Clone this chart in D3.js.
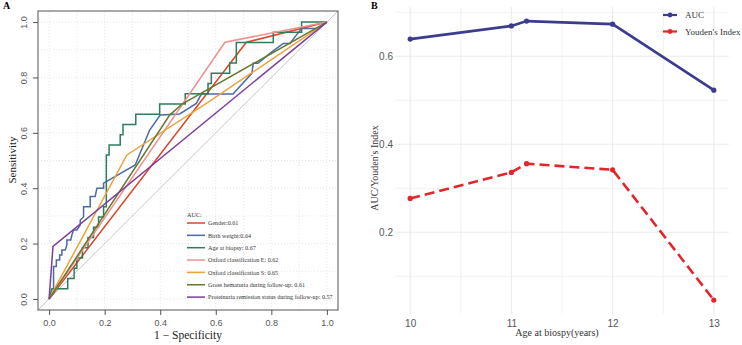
<!DOCTYPE html>
<html lang="en">
<head>
<meta charset="UTF-8">
<title>ROC and AUC by age</title>
<script src="https://cdn.jsdelivr.net/npm/d3@7/dist/d3.min.js"></script>
<style>
  body { margin: 0; background: #fff; }
  svg text { font-family: "Liberation Serif", "DejaVu Serif", serif; }
  .tick text { font-family: "Liberation Sans", Arial, sans-serif; fill: #555; }
</style>
</head>
<body>
<svg id="chart" width="742" height="345"></svg>
<script>
// ---- panel A: ROC curves ----
const rocLabels = [
  "Gender:0.61",
  "Birth weight:0.64",
  "Age at biopsy: 0.67",
  "Oxford classification E: 0.62",
  "Oxford classification S: 0.65",
  "Gross hematuria during follow-up: 0.61",
  "Proteinuria remission status during follow-up: 0.57"
];
const rocColors = ["#d9472b", "#4a6aa8", "#2e7d5a", "#ef9191", "#f0a23c", "#64782e", "#7b3f9e"];

const genderRoc = [[0, 0], [0.71, 0.927], [1, 1]];
const birthWeightRoc = [[0, 0], [0.016, 0.02], [0.016, 0.117], [0.026, 0.117], [0.026, 0.141], [0.038, 0.141],
  [0.038, 0.159], [0.046, 0.159], [0.046, 0.177], [0.058, 0.177], [0.064, 0.195], [0.064, 0.213], [0.078, 0.213],
  [0.082, 0.231], [0.088, 0.249], [0.1, 0.249], [0.112, 0.267], [0.112, 0.285], [0.124, 0.296], [0.124, 0.333],
  [0.148, 0.333], [0.148, 0.37], [0.166, 0.37], [0.172, 0.4], [0.196, 0.4], [0.196, 0.418], [0.31, 0.484],
  [0.362, 0.61], [0.4, 0.664], [0.47, 0.668], [0.53, 0.706], [0.548, 0.74], [0.662, 0.74], [0.73, 0.815],
  [0.735, 0.851], [0.752, 0.851], [0.795, 0.887], [0.843, 0.923], [0.867, 0.923], [0.89, 0.953],
  [0.909, 0.977], [0.963, 0.977], [1, 1]];
const ageRoc = [[0, 0], [0.01, 0.037], [0.067, 0.037], [0.067, 0.074], [0.09, 0.074], [0.09, 0.111], [0.1, 0.111],
  [0.1, 0.148], [0.12, 0.148], [0.12, 0.185], [0.14, 0.185], [0.14, 0.222], [0.16, 0.222], [0.16, 0.259],
  [0.178, 0.259], [0.178, 0.296], [0.196, 0.296], [0.196, 0.333], [0.206, 0.333], [0.206, 0.407], [0.206, 0.52],
  [0.216, 0.52], [0.216, 0.556], [0.256, 0.556], [0.256, 0.593], [0.266, 0.593], [0.266, 0.63], [0.312, 0.63],
  [0.312, 0.667], [0.398, 0.667], [0.398, 0.704], [0.49, 0.704], [0.49, 0.741], [0.572, 0.741], [0.572, 0.778],
  [0.584, 0.778], [0.584, 0.815], [0.65, 0.815], [0.65, 0.852], [0.674, 0.852], [0.674, 0.926], [0.807, 0.926],
  [0.807, 0.963], [0.909, 0.963], [0.909, 1], [1, 1]];
const oxfordERoc = [[0, 0], [0.633, 0.927], [1, 1]];
const oxfordSRoc = [[0, 0], [0.28, 0.52], [0.584, 0.718], [1, 1]];
const hematuriaRoc = [[0, 0], [0.434, 0.664], [0.48, 0.705], [1, 1]];
const proteinuriaRoc = [[0, 0], [0.014, 0.19], [1, 1]];
const rocCurves = [genderRoc, birthWeightRoc, ageRoc, oxfordERoc, oxfordSRoc, hematuriaRoc, proteinuriaRoc];
const rocTicks = [0, 0.2, 0.4, 0.6, 0.8, 1.0];

// ---- panel B: AUC / Youden by age cut-off ----
const ages = [10, 11, 11.15, 12, 13];
const aucValues = [0.639, 0.669, 0.680, 0.673, 0.523];
const youdenValues = [0.277, 0.336, 0.356, 0.342, 0.046];
const ageTicks = [10, 11, 12, 13];
const valueTicks = [0.2, 0.4, 0.6];

const svg = d3.select("#chart");

// ===== Panel A =====
const xA = d3.scaleLinear().domain([-0.04, 1.04]).range([38, 338]);
const yA = d3.scaleLinear().domain([-0.04, 1.04]).range([310, 11]);
const gA = svg.append("g");

const gridVals = d3.range(0, 11).map(i => i / 10);
gA.selectAll(".vgrid").data(gridVals).enter().append("line")
  .attr("x1", d => xA(d)).attr("x2", d => xA(d))
  .attr("y1", yA.range()[0]).attr("y2", yA.range()[1])
  .attr("stroke", "#e0e0e0").attr("stroke-width", 0.8).attr("stroke-dasharray", "1,2");
gA.selectAll(".hgrid").data(gridVals).enter().append("line")
  .attr("y1", d => yA(d)).attr("y2", d => yA(d))
  .attr("x1", xA.range()[0]).attr("x2", xA.range()[1])
  .attr("stroke", "#e0e0e0").attr("stroke-width", 0.8).attr("stroke-dasharray", "1,2");

// chance diagonal
gA.append("line")
  .attr("x1", xA(-0.04)).attr("y1", yA(-0.04)).attr("x2", xA(1.04)).attr("y2", yA(1.04))
  .attr("stroke", "#c8c8c8").attr("stroke-width", 1);

const rocLine = d3.line().x(d => xA(d[0])).y(d => yA(d[1]));
gA.selectAll(".roc").data(rocCurves).enter().append("path")
  .attr("d", rocLine)
  .attr("fill", "none")
  .attr("stroke", (d, i) => rocColors[i])
  .attr("stroke-width", 1.5);

gA.append("rect")
  .attr("x", 38).attr("y", 11).attr("width", 300).attr("height", 299)
  .attr("fill", "none").attr("stroke", "#555").attr("stroke-width", 1);

const xAxisA = gA.append("g").attr("transform", "translate(0,310)")
  .call(d3.axisBottom(xA).tickValues(rocTicks).tickFormat(d3.format(".1f")).tickSize(5).tickSizeOuter(0));
xAxisA.select(".domain").remove();
xAxisA.selectAll("line").attr("stroke", "#555");
xAxisA.selectAll("text").attr("font-size", 9).attr("dy", "0.9em");

const yAxisA = gA.append("g").attr("transform", "translate(38,0)")
  .call(d3.axisLeft(yA).tickValues(rocTicks).tickFormat(d3.format(".1f")).tickSize(5).tickSizeOuter(0));
yAxisA.select(".domain").remove();
yAxisA.selectAll("line").attr("stroke", "#555");
yAxisA.selectAll("text")
  .attr("font-size", 9)
  .attr("x", 0).attr("dy", 0)
  .attr("text-anchor", "middle")
  .attr("transform", "translate(-11,0) rotate(-90)");

gA.append("text").attr("x", 188).attr("y", 339).attr("text-anchor", "middle")
  .attr("font-size", 11.5).attr("fill", "#222").text("1 \u2212 Specificity");
gA.append("text").attr("transform", "translate(16,160) rotate(-90)").attr("text-anchor", "middle")
  .attr("font-size", 11).attr("fill", "#222").text("Sensitivity");
gA.append("text").attr("x", 3).attr("y", 9).attr("font-size", 10).attr("font-weight", "bold").text("A");

// legend A
gA.append("text").attr("x", 187).attr("y", 217).attr("font-size", 6.2).attr("fill", "#333").text("AUC:");
const legA = gA.selectAll(".legA").data(rocLabels).enter().append("g")
  .attr("transform", (d, i) => `translate(187,${223 + i * 12.35})`);
legA.append("line").attr("x1", 0).attr("x2", 18)
  .attr("stroke", (d, i) => rocColors[i]).attr("stroke-width", 1.5);
legA.append("text").attr("x", 21).attr("y", 2.2).attr("font-size", 6.1).attr("fill", "#333").text(d => d);

// ===== Panel B =====
const xB = d3.scaleLinear().domain([9.85, 13.15]).range([395, 729]);
const yB = d3.scaleLinear().domain([0.0143, 0.712]).range([314, 7]);
const gB = svg.append("g");

const minorX = [10, 10.5, 11, 11.5, 12, 12.5, 13];
gB.selectAll(".bvgrid").data(minorX).enter().append("line")
  .attr("x1", d => xB(d)).attr("x2", d => xB(d)).attr("y1", 7).attr("y2", 314)
  .attr("stroke", "#ebebeb").attr("stroke-width", d => Number.isInteger(d) ? 1.1 : 0.7);
const gridY = [0.1, 0.2, 0.3, 0.4, 0.5, 0.6, 0.7];
gB.selectAll(".bhgrid").data(gridY).enter().append("line")
  .attr("y1", d => yB(d)).attr("y2", d => yB(d)).attr("x1", 395).attr("x2", 729)
  .attr("stroke", "#ebebeb").attr("stroke-width", d => valueTicks.includes(d) ? 1.1 : 0.7);

const xAxisB = gB.append("g").attr("transform", "translate(0,314)")
  .call(d3.axisBottom(xB).tickValues(ageTicks).tickFormat(d3.format("d")).tickSize(0));
xAxisB.select(".domain").remove();
xAxisB.selectAll("text").attr("font-size", 10).attr("dy", "0.95em");

const yAxisB = gB.append("g").attr("transform", "translate(395,0)")
  .call(d3.axisLeft(yB).tickValues(valueTicks).tickFormat(d3.format(".1f")).tickSize(0));
yAxisB.select(".domain").remove();
yAxisB.selectAll("text").attr("font-size", 10).attr("x", -2);

const lineB = d3.line().x((d, i) => xB(ages[i])).y(d => yB(d));
gB.append("path").datum(youdenValues).attr("d", lineB)
  .attr("fill", "none").attr("stroke", "#e3262b").attr("stroke-width", 2.6).attr("stroke-dasharray", "10,5");
gB.selectAll(".ydot").data(youdenValues).enter().append("circle")
  .attr("cx", (d, i) => xB(ages[i])).attr("cy", d => yB(d)).attr("r", 2.6).attr("fill", "#e3262b");
gB.append("path").datum(aucValues).attr("d", lineB)
  .attr("fill", "none").attr("stroke", "#3b3b8f").attr("stroke-width", 2.6);
gB.selectAll(".adot").data(aucValues).enter().append("circle")
  .attr("cx", (d, i) => xB(ages[i])).attr("cy", d => yB(d)).attr("r", 2.6).attr("fill", "#3b3b8f");

gB.append("text").attr("x", 557).attr("y", 336).attr("text-anchor", "middle")
  .attr("font-size", 10).attr("fill", "#333").text("Age at biospy(years)");
gB.append("text").attr("transform", "translate(378,168) rotate(-90)").attr("text-anchor", "middle")
  .attr("font-size", 10).attr("fill", "#333").text("AUC/Youden's Index");
gB.append("text").attr("x", 371).attr("y", 9).attr("font-size", 10).attr("font-weight", "bold").text("B");

// legend B
const legB = gB.selectAll(".legB").data(["AUC", "Youden's Index"]).enter().append("g")
  .attr("transform", (d, i) => `translate(663,${15 + i * 16.5})`);
const legColors = ["#3b3b8f", "#e3262b"];
legB.append("line").attr("x1", 0).attr("x2", 14)
  .attr("stroke", (d, i) => legColors[i]).attr("stroke-width", 2.2);
legB.append("circle").attr("cx", 7).attr("r", 2.4).attr("fill", (d, i) => legColors[i]);
legB.append("text").attr("x", 22).attr("y", 3.2).attr("font-size", 9).attr("fill", "#333").text(d => d);
</script>
</body>
</html>
